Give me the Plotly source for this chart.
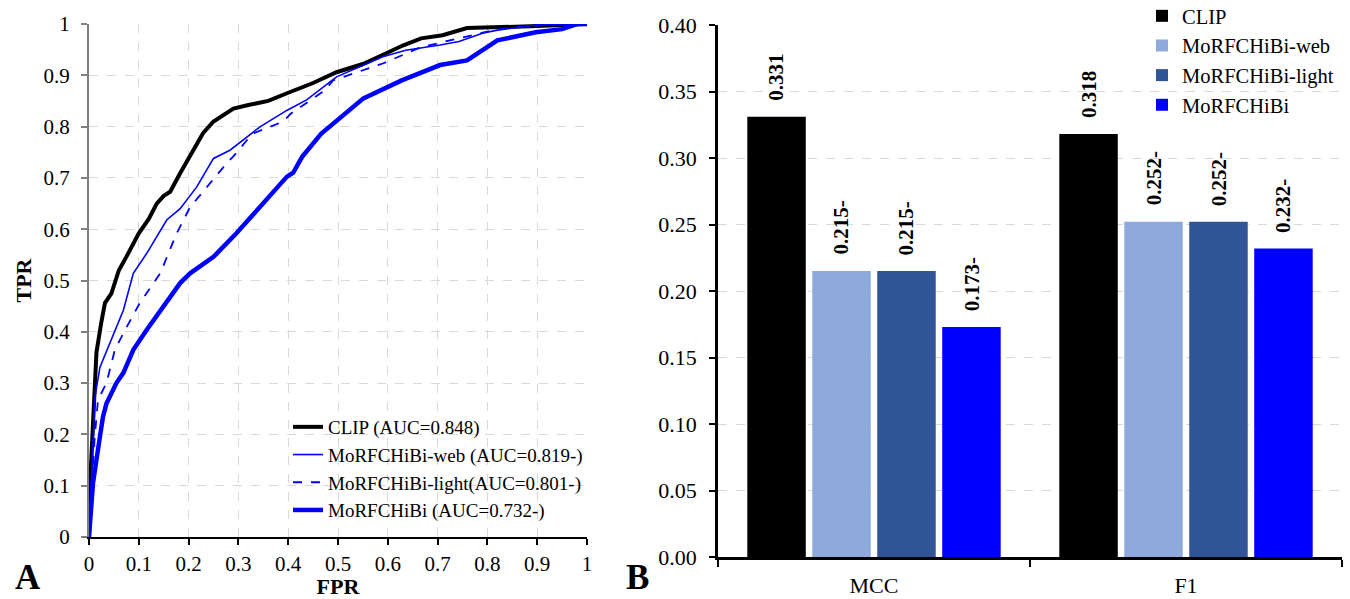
import plotly.graph_objects as go

# ---------------- data ----------------
clip_fpr = [0, 0.002, 0.006, 0.01, 0.015, 0.025, 0.032, 0.045, 0.06, 0.075, 0.1, 0.12, 0.136, 0.15, 0.163,
            0.183, 0.209, 0.229, 0.25, 0.27, 0.29, 0.32, 0.36, 0.4, 0.45, 0.497, 0.55, 0.597, 0.63, 0.667,
            0.71, 0.759, 0.8, 0.9, 1.0]
clip_tpr = [0, 0.1, 0.18, 0.26, 0.36, 0.42, 0.456, 0.475, 0.52, 0.546, 0.592, 0.62, 0.65, 0.665, 0.673,
            0.709, 0.754, 0.787, 0.81, 0.822, 0.835, 0.842, 0.85, 0.866, 0.885, 0.906, 0.922, 0.943, 0.958,
            0.972, 0.978, 0.992, 0.993, 0.996, 1.0]

web_fpr = [0, 0.005, 0.01, 0.012, 0.022, 0.042, 0.069, 0.089, 0.116, 0.156, 0.183, 0.216, 0.25, 0.283,
           0.344, 0.398, 0.437, 0.497, 0.59, 0.636, 0.705, 0.743, 0.79, 0.82, 0.897, 1.0]
web_tpr = [0, 0.12, 0.22, 0.273, 0.331, 0.378, 0.442, 0.514, 0.553, 0.618, 0.64, 0.682, 0.738, 0.754,
           0.8, 0.832, 0.852, 0.897, 0.936, 0.949, 0.959, 0.966, 0.982, 0.988, 0.998, 1.0]

light_fpr = [0, 0.005, 0.012, 0.018, 0.035, 0.052, 0.076, 0.102, 0.143, 0.176, 0.203, 0.236, 0.276, 0.289,
             0.328, 0.39, 0.405, 0.474, 0.49, 0.59, 0.667, 0.743, 0.82, 0.9, 1.0]
light_tpr = [0, 0.1, 0.2, 0.267, 0.3, 0.365, 0.41, 0.456, 0.514, 0.592, 0.643, 0.682, 0.728, 0.741,
             0.786, 0.81, 0.825, 0.871, 0.89, 0.923, 0.955, 0.972, 0.99, 0.997, 1.0]

morf_fpr = [0, 0.004, 0.008, 0.018, 0.028, 0.035, 0.055, 0.069, 0.089, 0.116, 0.149, 0.183, 0.203, 0.25,
            0.296, 0.343, 0.397, 0.41, 0.428, 0.466, 0.513, 0.551, 0.628, 0.705, 0.759, 0.797, 0.82, 0.897,
            0.95, 0.98, 1.0]
morf_tpr = [0, 0.05, 0.105, 0.17, 0.234, 0.26, 0.3, 0.32, 0.365, 0.404, 0.449, 0.495, 0.514, 0.546,
            0.592, 0.643, 0.702, 0.71, 0.741, 0.786, 0.825, 0.855, 0.89, 0.92, 0.929, 0.952, 0.968, 0.984,
            0.99, 1.0, 1.0]

roc_names = ["CLIP (AUC=0.848)", "MoRFCHiBi-web (AUC=0.819-)",
             "MoRFCHiBi-light(AUC=0.801-)", "MoRFCHiBi (AUC=0.732-)"]

metrics = ["MCC", "F1"]
methods = ["CLIP", "MoRFCHiBi-web", "MoRFCHiBi-light", "MoRFCHiBi"]
mcc_values = [0.331, 0.215, 0.215, 0.173]
f1_values = [0.318, 0.252, 0.252, 0.232]
sig_marks = ["", "-", "-", "-"]

# ---------------- styles ----------------
FONT = "Liberation Serif"
W, H = 1350, 599
BLUE = "#0000FF"
bar_colors = ["#000000", "#8EA9DB", "#2F5597", "#0000FF"]
roc_styles = [dict(color="#000000", width=4, dash="solid"),
              dict(color=BLUE, width=1.6, dash="solid"),
              dict(color=BLUE, width=1.8, dash="dash"),
              dict(color=BLUE, width=4.5, dash="solid")]

fig = go.Figure()

roc_data = [(clip_fpr, clip_tpr), (web_fpr, web_tpr), (light_fpr, light_tpr), (morf_fpr, morf_tpr)]
for (fx, ty), name, st in zip(roc_data, roc_names, roc_styles):
    fig.add_trace(go.Scatter(x=fx, y=ty, mode="lines", name=name, line=st,
                             xaxis="x", yaxis="y", legend="legend"))

values_by_method = [[mcc_values[i], f1_values[i]] for i in range(len(methods))]
for i, m in enumerate(methods):
    fig.add_trace(go.Bar(x=metrics, y=values_by_method[i], name=m,
                         marker=dict(color=bar_colors[i], line=dict(width=0)),
                         xaxis="x2", yaxis="y2", legend="legend2"))

# plot-area geometry (pixels)
L1, R1, T1, B1 = 89, 587, 24, 537
L2, R2, T2, B2 = 718, 1342, 25, 557
BARGAP, GROUPGAP = 0.167, 0.1

grid = dict(showgrid=True, gridcolor="#d9d9d9", gridwidth=1, griddash="dash", zeroline=False)
# companion axes drawing the inner half of the crossing tick marks
inner = dict(showgrid=False, zeroline=False, showline=False, showticklabels=False,
             ticks="inside", ticklen=5, tickwidth=2)

fig.update_layout(
    width=W, height=H,
    margin=dict(l=0, r=0, t=0, b=0, autoexpand=False),
    paper_bgcolor="white", plot_bgcolor="white",
    font=dict(family=FONT, color="black"),
    barmode="group", bargap=BARGAP, bargroupgap=GROUPGAP,
    xaxis=dict(domain=[L1 / W, R1 / W], range=[0, 1], dtick=0.1, anchor="y",
               showline=True, linecolor="black", linewidth=2,
               ticks="outside", ticklen=6, tickwidth=2, tickcolor="black",
               tickfont=dict(size=21), ticklabelstandoff=1,
               title=dict(text="<b>FPR</b>", font=dict(size=22), standoff=2), **grid),
    yaxis=dict(domain=[1 - B1 / H, 1 - T1 / H], range=[0, 1], dtick=0.1, anchor="x",
               showline=True, linecolor="#7f7f7f", linewidth=2,
               ticks="outside", ticklen=6, tickwidth=2, tickcolor="#7f7f7f",
               tickfont=dict(size=21), ticklabelstandoff=7,
               title=dict(text="<b>TPR</b>", font=dict(size=22), standoff=6), **grid),
    xaxis2=dict(domain=[L2 / W, R2 / W], anchor="y2", type="category", range=[-0.5, 1.5],
                showline=True, linecolor="black", linewidth=2.5,
                ticks="outside", ticklen=7, tickwidth=2, tickcolor="black", tickson="boundaries",
                tickfont=dict(size=22), ticklabelstandoff=7, showgrid=False, zeroline=False),
    yaxis2=dict(domain=[1 - B2 / H, 1 - T2 / H], anchor="x2", range=[0, 0.4], dtick=0.05,
                tickformat=".2f", showline=True, linecolor="black", linewidth=2.5,
                ticks="outside", ticklen=6, tickwidth=2, tickcolor="black",
                tickfont=dict(size=22), ticklabelstandoff=8, **grid),
    xaxis3=dict(overlaying="x", anchor="y", range=[0, 1], dtick=0.1, tickcolor="black", **inner),
    yaxis3=dict(overlaying="y", anchor="x", range=[0, 1], dtick=0.1, tickcolor="#7f7f7f", **inner),
    yaxis4=dict(overlaying="y2", anchor="x2", range=[0, 0.4], dtick=0.05, tickcolor="black", **inner),
    legend=dict(x=288 / W, y=1 - 408 / H, xanchor="left", yanchor="top",
                bgcolor="rgba(0,0,0,0)", font=dict(size=19, family=FONT),
                tracegroupgap=0, itemsizing="trace"),
    legend2=dict(x=1142 / W, y=1 + 4 / H, xanchor="left", yanchor="top",
                 bgcolor="rgba(0,0,0,0)", font=dict(size=20.5, family=FONT),
                 tracegroupgap=0),
    showlegend=True,
)

# value labels above bars
ncat, nbar = len(metrics), len(methods)
pitch = (R2 - L2) / ncat * (1 - BARGAP) / nbar
for i in range(nbar):
    for j, cat in enumerate(metrics):
        v = values_by_method[i][j]
        fig.add_annotation(x=cat, y=v, xref="x2", yref="y2",
                           text="<b>%.3f%s</b>" % (v, sig_marks[i]), textangle=-90,
                           showarrow=False, xanchor="center", yanchor="bottom",
                           xshift=(i - (nbar - 1) / 2) * pitch, yshift=14,
                           font=dict(size=21, family=FONT, color="black"))

# panel letters
fig.add_annotation(x=13 / W, y=0, xref="paper", yref="paper", text="<b>A</b>",
                   showarrow=False, xanchor="left", yanchor="bottom", font=dict(size=35, family=FONT))
fig.add_annotation(x=624 / W, y=0, xref="paper", yref="paper", text="<b>B</b>",
                   showarrow=False, xanchor="left", yanchor="bottom", font=dict(size=35, family=FONT))

fig.write_html("out.html", config={"displayModeBar": False},
               post_script="document.body.style.margin='0';")
